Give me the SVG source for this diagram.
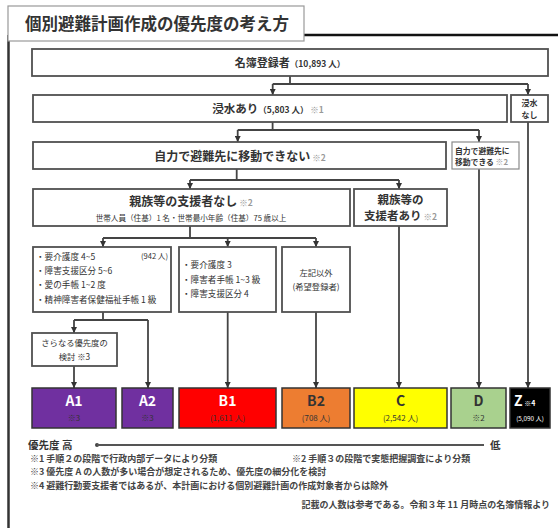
<svg xmlns="http://www.w3.org/2000/svg" width="558" height="528" viewBox="0 0 558 528">
<defs>
<style>
text{font-family:"Noto Sans CJK JP","Noto Sans",sans-serif;fill:#333;}
.b{font-weight:bold;}
.box{fill:#fff;stroke:#505050;stroke-width:1.8;}
.thin{fill:#fff;stroke:#8a8a8a;stroke-width:1.2;}
.cb{stroke:#333;stroke-width:1.5;}
.ln{fill:none;stroke:#444;stroke-width:1.8;}
.g{fill:#999;}
.w{fill:#fff;}
.note{font-size:9px;fill:#444;font-weight:bold;}
</style>
<marker id="ah" markerUnits="userSpaceOnUse" markerWidth="6" markerHeight="6" viewBox="0 0 6 6" refX="6" refY="3" orient="auto">
<path d="M0,0 L6,3 L0,6 Z" fill="#333"/>
</marker>
</defs>
<rect width="558" height="528" fill="#fff"/>
<!-- frame -->
<g id="frame">
<line x1="304" y1="35" x2="558" y2="35" stroke="#111" stroke-width="2.5"/>
<line x1="8.5" y1="35" x2="8.5" y2="528" stroke="#333" stroke-width="2.5"/>
<rect x="8" y="6" width="296" height="35" fill="#fff" stroke="#999" stroke-width="1.2"/>
<text x="25" y="30" font-size="16.5" class="b" fill="#222">個別避難計画作成の優先度の考え方</text>
</g>
<!-- connectors -->
<g id="connectors">
<path class="ln" d="M290,76 V84 M272.7,84 H528"/>
<path class="ln" d="M272.7,84 V95" marker-end="url(#ah)"/>
<path class="ln" d="M528,84 V95" marker-end="url(#ah)"/>
<path class="ln" d="M272.6,122 V130 M237.7,130 H479"/>
<path class="ln" d="M237.7,130 V142" marker-end="url(#ah)"/>
<path class="ln" d="M479,130 V142" marker-end="url(#ah)"/>
<path class="ln" d="M236.7,169 V180 M190,180 H399"/>
<path class="ln" d="M190,180 V189" marker-end="url(#ah)"/>
<path class="ln" d="M399,180 V189" marker-end="url(#ah)"/>
<path class="ln" d="M190,226 V238 M103,238 H316"/>
<path class="ln" d="M103,238 V247" marker-end="url(#ah)"/>
<path class="ln" d="M227.7,238 V247" marker-end="url(#ah)"/>
<path class="ln" d="M316,238 V247" marker-end="url(#ah)"/>
<path class="ln" d="M103,312 V320 M74,320 H148"/>
<path class="ln" d="M74,320 V333" marker-end="url(#ah)"/>
<path class="ln" d="M148,320 V388" marker-end="url(#ah)"/>
<path class="ln" d="M74,366 V388" marker-end="url(#ah)"/>
<path class="ln" d="M227.7,312 V388" marker-end="url(#ah)"/>
<path class="ln" d="M316,312 V388" marker-end="url(#ah)"/>
<path class="ln" d="M399,226 V388" marker-end="url(#ah)"/>
<path class="ln" d="M479,169 V388" marker-end="url(#ah)"/>
<path class="ln" d="M528,122 V388" marker-end="url(#ah)"/>
</g>
<!-- nodes -->
<g id="meibo">
<rect class="box" x="32" y="49" width="516" height="27"/>
<text x="290" y="67" text-anchor="middle" class="b" font-size="11">名簿登録者<tspan font-size="8.5">（10,893 人）</tspan></text>
</g>
<g id="shinsui-ari">
<rect class="box" x="33" y="95" width="474" height="27"/>
<text x="268" y="113" text-anchor="middle" class="b" font-size="11.5">浸水あり<tspan font-size="8.5">（5,803 人）</tspan><tspan font-size="8.5" class="g"> ※1</tspan></text>
</g>
<g id="shinsui-nashi">
<rect class="box" x="511" y="95" width="37" height="27"/>
<text x="529.5" y="106" text-anchor="middle" class="b" font-size="8">浸水</text>
<text x="529.5" y="118" text-anchor="middle" class="b" font-size="8">なし</text>
</g>
<g id="jiriki-dekinai">
<rect class="box" x="33" y="142" width="413" height="27"/>
<text x="240" y="160.5" text-anchor="middle" class="b" font-size="12">自力で避難先に移動できない<tspan font-size="8.5" class="g"> ※2</tspan></text>
</g>
<g id="jiriki-dekiru">
<rect class="thin" x="452" y="142" width="67" height="27"/>
<text x="455" y="153.5" class="b" font-size="7.8">自力で避難先に</text>
<text x="455" y="165" class="b" font-size="7.8">移動できる<tspan class="g"> ※2</tspan></text>
</g>
<g id="shien-nashi">
<rect class="box" x="33" y="189" width="317" height="37"/>
<text x="191" y="206" text-anchor="middle" class="b" font-size="12">親族等の支援者なし<tspan font-size="8.5" class="g"> ※2</tspan></text>
<text x="191" y="220.5" text-anchor="middle" font-size="7.6">世帯人員（住基）1 名・世帯最小年齢（住基）75 歳以上</text>
</g>
<g id="shien-ari">
<rect class="box" x="354" y="189" width="93" height="37"/>
<text x="400.5" y="204" text-anchor="middle" class="b" font-size="11.5">親族等の</text>
<text x="400.5" y="220" text-anchor="middle" class="b" font-size="11.5">支援者あり<tspan font-size="8.5" class="g"> ※2</tspan></text>
</g>
<g id="box1">
<rect class="box" x="33" y="247" width="138" height="65"/>
<text x="36" y="259.5" font-size="8.6">・要介護度 4~5</text>
<text x="168" y="258.5" text-anchor="end" font-size="7.6">(942 人)</text>
<text x="36" y="273.5" font-size="8.6">・障害支援区分 5~6</text>
<text x="36" y="288" font-size="8.6">・愛の手帳 1~2 度</text>
<text x="36" y="303" font-size="8.6">・精神障害者保健福祉手帳 1 級</text>
</g>
<g id="box2">
<rect class="box" x="179" y="247" width="97" height="65"/>
<text x="182" y="268" font-size="8.6">・要介護度 3</text>
<text x="182" y="282.5" font-size="8.6">・障害者手帳 1~3 級</text>
<text x="182" y="297" font-size="8.6">・障害支援区分 4</text>
</g>
<g id="box3">
<rect class="box" x="282" y="247" width="68" height="65"/>
<text x="316" y="276" text-anchor="middle" font-size="8.3">左記以外</text>
<text x="316" y="290" text-anchor="middle" font-size="8.3">(希望登録者)</text>
</g>
<g id="sarani">
<rect class="box" x="32" y="333" width="85" height="33"/>
<text x="74.5" y="345.5" text-anchor="middle" font-size="8.3">さらなる優先度の</text>
<text x="74.5" y="360" text-anchor="middle" font-size="8.3">検討 ※3</text>
</g>
<g id="A1">
<rect class="cb" x="32" y="388" width="84" height="40" fill="#7030A0"/>
<text x="74" y="406" text-anchor="middle" class="b w" font-size="14">A1</text>
<text x="74" y="421" text-anchor="middle" font-size="8" fill="#d8c0ec">※3</text>
</g>
<g id="A2">
<rect class="cb" x="122" y="388" width="51" height="40" fill="#7030A0"/>
<text x="147.5" y="406" text-anchor="middle" class="b w" font-size="14">A2</text>
<text x="147.5" y="421" text-anchor="middle" font-size="8" fill="#d8c0ec">※3</text>
</g>
<g id="B1">
<rect class="cb" x="179" y="388" width="97" height="40" fill="#FF0000"/>
<text x="227.5" y="406" text-anchor="middle" class="b w" font-size="14">B1</text>
<text x="227.5" y="421" text-anchor="middle" font-size="8" fill="#ffd0d0">(1,611 人)</text>
</g>
<g id="B2">
<rect class="cb" x="282" y="388" width="68" height="40" fill="#ED7D31"/>
<text x="316" y="406" text-anchor="middle" class="b" font-size="14" fill="#fde2c8">B2</text>
<text x="316" y="421" text-anchor="middle" font-size="8" fill="#fff">(708 人)</text>
</g>
<g id="C">
<rect class="cb" x="354" y="388" width="93" height="40" fill="#FFFF00"/>
<text x="400.5" y="406" text-anchor="middle" class="b" font-size="14" fill="#444">C</text>
<text x="400.5" y="421" text-anchor="middle" font-size="8" fill="#555">(2,542 人)</text>
</g>
<g id="D">
<rect class="cb" x="451" y="388" width="55" height="40" fill="#A9D18E"/>
<text x="478.5" y="406" text-anchor="middle" class="b" font-size="14" fill="#2f5a25">D</text>
<text x="478.5" y="421" text-anchor="middle" font-size="8" fill="#2f5a25">※2</text>
</g>
<g id="Z">
<rect class="cb" x="510" y="388" width="40" height="40" fill="#000"/>
<text x="514" y="406" class="b w" font-size="14">Z<tspan font-size="7"> ※4</tspan></text>
<text x="530" y="421" text-anchor="middle" class="w" font-size="6.3">(5,090 人)</text>
</g>
<!-- priority -->
<g id="priority">
<text x="28" y="448.5" class="b" font-size="10.5" fill="#444">優先度 高</text>
<circle cx="97" cy="445" r="2" fill="#444"/>
<line x1="97" y1="445" x2="484" y2="445" stroke="#555" stroke-width="1.8"/>
<text x="490" y="448.5" class="b" font-size="10.5" fill="#444">低</text>
</g>
<g id="notes">
<text x="30" y="462" class="note">※1 手順２の段階で行政内部データにより分類</text>
<text x="292" y="462" class="note">※2 手順３の段階で実態把握調査により分類</text>
<text x="30" y="475" class="note">※3 優先度 A の人数が多い場合が想定されるため、優先度の細分化を検討</text>
<text x="30" y="489" class="note">※4 避難行動要支援者ではあるが、本計画における個別避難計画の作成対象者からは除外</text>
<text x="550" y="508" text-anchor="end" class="note">記載の人数は参考である。令和３年 11 月時点の名簿情報より</text>
</g>
</svg>
